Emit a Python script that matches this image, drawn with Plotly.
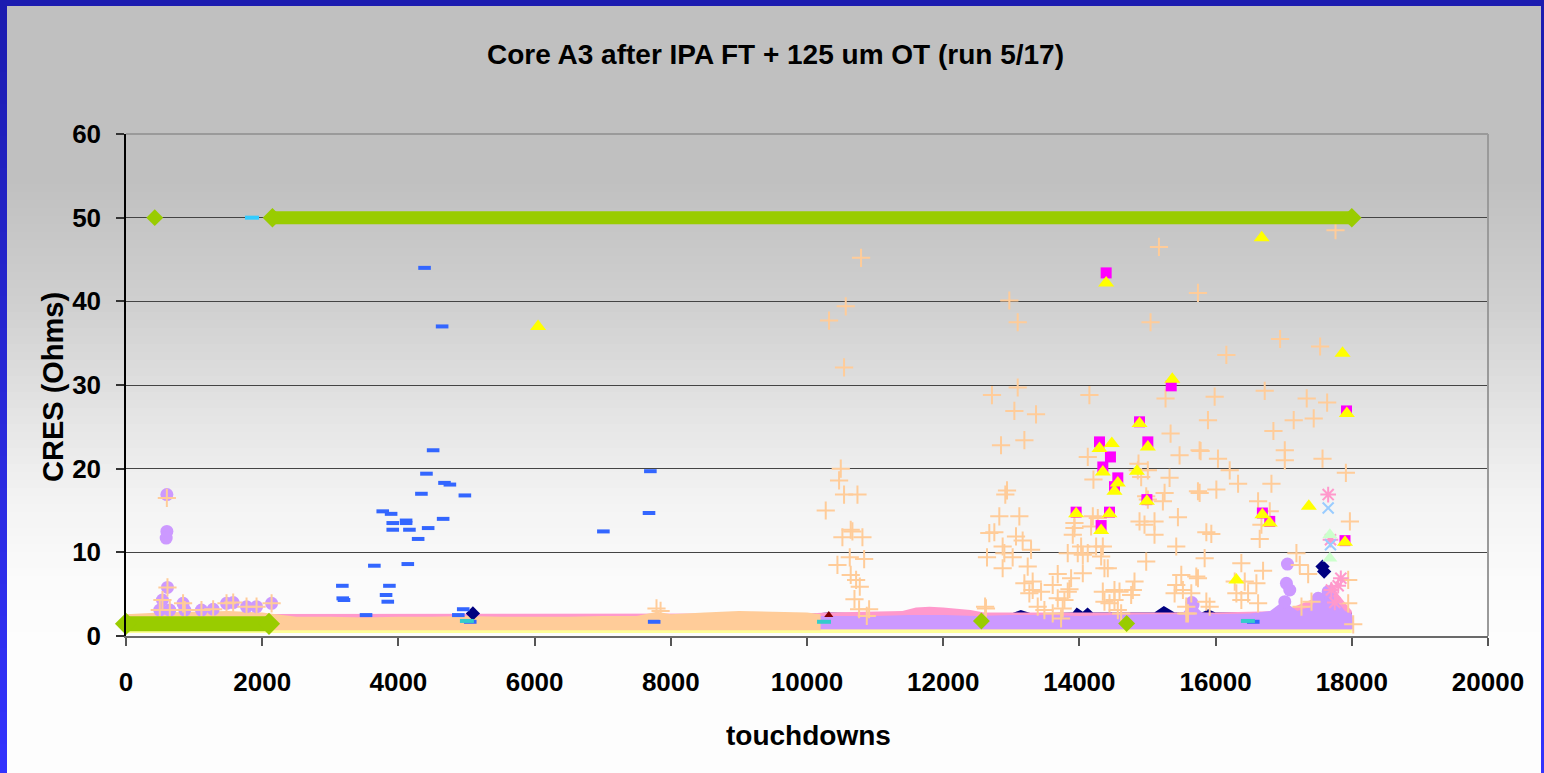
import plotly.graph_objects as go

# ---------------- data ----------------
TITLE = "Core A3 after IPA FT + 125 um OT (run 5/17)"
X_TITLE = "touchdowns"
Y_TITLE = "CRES (Ohms)"
x_ticks = [0, 2000, 4000, 6000, 8000, 10000, 12000, 14000, 16000, 18000, 20000]
y_ticks = [0, 10, 20, 30, 40, 50, 60]

# dense bands
green_top_x = [2150, 18000]
green_top_y = [50, 50]
green_low_x = [0, 2100]
green_low_y = [1.45, 1.45]

yellow_band_x = [0, 18000]
yellow_band_top = [0.9, 0.9]
yellow_band_floor = 0.35

navy_x = [2000, 10000, 10300, 11000, 12500, 13000, 13140, 13300, 13900, 13960, 14050, 14120,
          14200, 15100, 15240, 15400, 15800, 15890, 16000, 17000, 17500, 17600, 18000]
navy_top = [2.5, 2.6, 2.8, 2.7, 2.7, 2.7, 3.1, 2.7, 2.8, 3.4, 2.9, 3.4,
            2.8, 2.8, 3.6, 2.8, 2.8, 3.2, 2.8, 2.8, 2.9, 3.6, 2.8]
navy_floor = 1.0

pink_x = [0, 10000, 10300, 11400, 11600, 11800, 12000, 12400, 12600, 16000, 17000, 17600, 17700, 17800, 18000]
pink_top = [2.6, 2.7, 2.8, 3.0, 3.4, 3.5, 3.4, 3.1, 2.8, 2.8, 3.0, 5.0, 6.5, 5.0, 3.0]
pink_floor = 0.8

lav_x = [0, 2000, 2200, 4000, 6000, 8000, 10000, 10200, 10500, 11000, 11500, 12000, 12500, 13000,
         13500, 14000, 14500, 15000, 15500, 15650, 15800, 16000, 16500, 16800, 17000, 17200, 17400,
         17600, 17700, 17800, 17900, 18000, 18030]
lav_top = [2.2, 2.2, 2.0, 2.0, 2.0, 2.1, 2.2, 2.4, 2.4, 2.4, 2.5, 2.5, 2.4, 2.5,
           2.5, 2.4, 2.5, 2.6, 2.6, 4.0, 2.8, 2.6, 2.7, 3.0, 4.2, 3.0, 3.5,
           5.5, 5.0, 4.0, 3.0, 2.6, 2.0]
lav_floor = 0.8

peach_x = [0, 500, 1000, 1500, 2000, 2500, 3000, 3500, 4000, 4500, 5000, 5500, 6000, 6500,
           7000, 7500, 7800, 8000, 8500, 9000, 9500, 10000, 10200]
peach_top = [2.6, 2.8, 2.9, 3.0, 2.8, 2.3, 2.3, 2.2, 2.3, 2.3, 2.4, 2.3, 2.3, 2.3,
             2.4, 2.4, 2.9, 2.6, 2.8, 3.0, 2.9, 2.8, 2.6]
peach_floor = 0.7

# scattered points
blue_x = [3177, 3201, 3183, 3525, 3647, 3770, 3819, 3844, 3868, 3893, 3917, 3917, 4113, 4113, 4138,
          4162, 4290, 4338, 4384, 4412, 4437, 4510, 4642, 4657, 4677, 4756, 4880, 4952, 4976, 5055,
          7010, 7680, 7700, 7756, 16553]
blue_y = [6.0, 4.3, 4.5, 2.5, 8.4, 14.9, 4.9, 4.1, 6.0, 14.6, 13.5, 12.7, 13.8, 13.5, 8.6,
          12.7, 11.6, 17.0, 44.0, 19.4, 12.9, 22.2, 37.0, 14.0, 18.3, 18.1, 2.5, 3.2, 16.8, 1.7,
          12.5, 14.7, 19.7, 1.7, 1.7]

sky_x = [1850]
sky_y = [50]

teal_x = [5006, 10250, 16474]
teal_y = [1.8, 1.7, 1.8]

peach_pts_x = [600, 535, 609, 496, 643, 838, 863, 1108, 1280, 1476, 1574, 1770, 1917, 2138, 7790, 7850,
               10794, 10569, 10324, 10544, 10496, 10471, 10544, 10741, 10275, 10642, 10667, 10520, 10814,
               10628, 10839, 10447, 10642, 10721, 10775, 10697, 10765, 10912, 10878, 12615,
               13045, 13363, 12849, 13192, 12937, 12912, 12824, 13118, 12677, 12751, 13069, 13167, 13290,
               12873, 12898, 12643, 13020, 13241, 12873, 13682, 14050, 13878, 13192, 13314, 13608, 13314,
               13437, 13265, 13829, 13854, 13682, 13780, 13388, 13486, 13608, 13755, 13731, 12628, 14123,
               14206, 14197, 14270, 14172, 13927, 13903, 13927, 14025, 14246, 14344, 13829, 13976, 14050,
               14123, 14319, 14368, 14417, 14344, 14515, 14589, 14368, 14442, 14515, 14564, 14613, 14809,
               14785, 14760, 14858, 15005, 14907, 14868, 15339, 15471, 15324, 15251, 15226, 15005, 14981,
               14883, 14956, 15103, 15103, 15447, 15422, 14981, 15496, 15422, 15716, 15398, 15520, 15643,
               15569, 15594, 15765, 15741,
               15168, 15741, 12971, 13094, 15045, 13094, 12716, 14147, 15265,
               17761, 16947, 16158, 17535, 15986, 16721, 17338, 17638, 15888, 17147, 17441, 16849,
               15780, 16035, 17016, 17016, 17570, 17913, 16207, 15766, 16011, 16330, 16820, 16624, 16795,
               16673, 16648, 15864, 15937, 15839, 16378, 16697, 17972, 17947, 17187, 17359, 17236, 15741,
               16428, 16599, 16281, 16305, 16378, 16477, 16624, 15864, 15570, 15913, 17261, 17408, 17947,
               18021]
peach_pts_y = [16.5, 4.3, 5.8, 3.1, 3.1, 3.9, 3.1, 3.1, 3.2, 3.9, 4.0, 3.5, 3.5, 3.9, 3.3, 3.0,
               45.2, 39.4, 37.7, 32.1, 20.0, 18.6, 16.9, 16.9, 15.0, 12.7, 12.5, 11.8, 11.8,
               9.4, 9.2, 8.5, 7.3, 6.7, 5.9, 4.4, 3.2, 3.2, 2.4, 3.5,
               26.9, 26.5, 22.8, 23.4, 17.4, 16.9, 14.3, 14.3, 12.3, 12.4, 11.9, 11.4, 10.3,
               10.7, 9.9, 9.4, 9.4, 8.3, 8.1, 7.4, 7.5, 6.9, 6.3, 6.5, 6.1, 5.5,
               5.3, 5.1, 5.3, 5.6, 4.5, 4.3, 3.5, 3.1, 2.7, 3.3, 2.1, 3.3, 21.4,
               18.7, 14.3, 14.1, 13.1, 13.5, 12.1, 12.9, 10.7, 10.7, 10.7, 9.9, 9.9, 9.7,
               9.9, 9.5, 8.1, 8.1, 5.3, 5.5, 5.3, 4.1, 3.9, 4.3, 3.1, 2.7, 6.5,
               5.5, 4.9, 19.8, 19.8, 19.0, 20.6, 24.2, 21.6, 18.9, 17.1, 16.1, 16.3, 16.7,
               13.7, 13.3, 13.7, 12.1, 14.2, 10.7, 8.9, 7.3, 6.1, 7.1, 5.1, 5.5, 5.1,
               3.5, 2.7, 22.2, 17.3,
               46.5, 41.0, 40.1, 37.5, 37.5, 29.7, 28.8, 28.8, 28.4,
               48.5, 35.5, 33.6, 34.6, 28.6, 29.3, 28.4, 27.9, 25.8, 25.8, 26.0, 24.5,
               22.1, 21.2, 22.2, 21.0, 21.2, 19.5, 19.8, 17.1, 17.5, 18.2, 18.2, 16.1, 14.9,
               13.3, 11.6, 12.4, 12.2, 9.3, 8.7, 7.8, 13.7, 6.7, 9.9, 7.4, 8.5, 6.9,
               6.5, 6.3, 6.5, 5.1, 4.3, 5.1, 3.9, 4.1, 2.7, 3.5, 3.5, 4.1, 3.9,
               1.4]

lav_pts_x = [600, 600, 590, 609, 535, 496, 643, 838, 863, 1108, 1280, 1476, 1574, 1770, 1917, 2138,
             17055, 17040, 17089, 17016, 17506, 17653, 15668, 15650]
lav_pts_y = [16.9, 12.5, 11.7, 5.8, 4.3, 3.1, 3.1, 3.9, 3.1, 3.1, 3.2, 3.9, 4.0, 3.5, 3.5, 3.9,
             8.6, 6.3, 5.5, 4.1, 4.5, 5.3, 3.7, 4.0]

mag_x = [14393, 14295, 14456, 14344, 14564, 14515, 13952, 14442, 14319, 14883, 15005, 14991, 15348,
         16687, 16795, 17922, 17900]
mag_y = [43.4, 23.2, 21.4, 20.2, 18.9, 17.85, 14.8, 14.8, 13.2, 25.6, 23.2, 16.3, 29.9,
         14.7, 13.7, 26.9, 11.4]

yel_x = [6051, 14393, 14295, 14476, 14344, 14564, 14515, 13952, 14442, 14319, 14883, 15005, 14991,
         14844, 15364, 16677, 17864, 17369, 16305, 16687, 16795, 17927, 17900]
yel_y = [37.0, 42.2, 22.4, 23.0, 19.6, 18.3, 17.3, 14.6, 14.6, 12.6, 25.4, 22.6, 16.1,
         19.7, 30.7, 47.6, 33.8, 15.5, 6.7, 14.5, 13.5, 26.6, 11.2]

green_pts_x = [422, 12561, 14694]
green_pts_y = [50, 1.8, 1.5]

pinkx_x = [17653, 17687, 17839, 17700, 17750, 17800]
pinkx_y = [16.9, 11.5, 6.9, 5.5, 4.0, 6.0]
ltblue_x = [17653, 17687]
ltblue_y = [15.3, 10.9]
ltgreen_x = [17678, 17678]
ltgreen_y = [12.1, 9.3]
navy_pts_x = [17570, 17594, 5094]
navy_pts_y = [8.3, 7.7, 2.7]
maroon_x = [10320]
maroon_y = [2.5]

# ---------------- figure ----------------
W, H = 1544, 773
ML, MR, MT, MB = 126, 56, 134, 137
PW, PH = W - ML - MR, H - MT - MB

def px2fx(px):
    return (px - ML) / PW

def py2fy(py):
    return 1 - (py - MT) / PH

FONT = "Liberation Sans, Arial, sans-serif"

fig = go.Figure()

def band(xs, tops, floor, color, name):
    fig.add_trace(go.Scatter(
        x=list(xs) + list(xs)[::-1],
        y=list(tops) + [floor] * len(xs),
        fill="toself", fillcolor=color, mode="lines",
        line=dict(width=0, color=color), hoverinfo="skip", name=name, showlegend=False))

band(yellow_band_x, yellow_band_top, yellow_band_floor, "#ffff99", "yellow")
band(navy_x, navy_top, navy_floor, "#000080", "navy")
band(pink_x, pink_top, pink_floor, "#ff99cc", "pink")
band(lav_x, lav_top, lav_floor, "#cc99ff", "lavender")
band(peach_x, peach_top, peach_floor, "#ffcc99", "peach")

def pts(x, y, symbol, size, color, lw=0, lc=None):
    fig.add_trace(go.Scatter(
        x=x, y=y, mode="markers", cliponaxis=False, showlegend=False,
        marker=dict(symbol=symbol, size=size, color=color,
                    line=dict(width=lw, color=lc if lc else color))))

pts(navy_pts_x, navy_pts_y, "diamond", 11, "#000080")
pts(maroon_x, maroon_y, "triangle-up", 8, "#800000")
pts(lav_pts_x, lav_pts_y, "circle", 13, "#cc99ff")
pts(blue_x, blue_y, "line-ew", 9, "#3366ff", 4, "#3366ff")
pts(teal_x, teal_y, "line-ew", 10, "#33cccc", 4, "#33cccc")
pts(sky_x, sky_y, "line-ew", 10, "#33ccff", 4, "#33ccff")
pts(peach_pts_x, peach_pts_y, "cross-thin", 13, "#ffcc99", 2, "#ffcc99")
pts(pinkx_x, pinkx_y, "asterisk", 13, "#ff99cc", 2, "#ff99cc")
pts(ltblue_x, ltblue_y, "x-thin", 11, "#99ccff", 2, "#99ccff")
pts(ltgreen_x, ltgreen_y, "triangle-up", 13, "#ccffcc")
pts(mag_x, mag_y, "square", 11, "#ff00ff")
pts(yel_x, yel_y, "triangle-up", 14, "#ffff00")

# green series (dense band at the bottom, then saturated at 50)
fig.add_trace(go.Scatter(x=green_low_x, y=green_low_y, mode="lines+markers", cliponaxis=False,
                         showlegend=False, line=dict(color="#99cc00", width=15),
                         marker=dict(symbol="diamond", size=17, color="#99cc00")))
fig.add_trace(go.Scatter(x=green_top_x, y=green_top_y, mode="lines+markers", cliponaxis=False,
                         showlegend=False, line=dict(color="#99cc00", width=13),
                         marker=dict(symbol="diamond", size=15, color="#99cc00")))
pts(green_pts_x, green_pts_y, "diamond", 13, "#99cc00")

# ---- background: blue frame + grey-to-white gradient ----
shapes = []
stops = [(0, 192), (180, 192), (300, 207), (430, 231), (500, 243), (580, 251), (650, 253), (773, 253)]

def grey_at(py):
    for (a, va), (b, vb) in zip(stops[:-1], stops[1:]):
        if a <= py <= b:
            t = (py - a) / (b - a) if b > a else 0
            return va + (vb - va) * t
    return stops[-1][1]

step = 8
py = 0
while py < H:
    py2 = min(H, py + step)
    t = py / H
    br = int(28 + (52 - 28) * t)
    bb = int(176 + (255 - 176) * t)
    shapes.append(dict(type="rect", xref="paper", yref="paper", layer="below",
                       x0=px2fx(0), x1=px2fx(W), y0=py2fy(py2 + 0.5), y1=py2fy(py),
                       fillcolor=f"rgb({br},{br},{bb})", line=dict(width=0)))
    g = int(round(grey_at((py + py2) / 2)))
    top = max(py, 6)
    if top < py2:
        shapes.append(dict(type="rect", xref="paper", yref="paper", layer="below",
                           x0=px2fx(7), x1=px2fx(1541), y0=py2fy(py2 + 0.5), y1=py2fy(top),
                           fillcolor=f"rgb({g},{g},{g})", line=dict(width=0)))
    py = py2

# plot-area frame: grey top and right
shapes.append(dict(type="line", xref="paper", yref="paper", x0=0, x1=1, y0=1, y1=1,
                   line=dict(color="#9a9a9a", width=2), layer="above"))
shapes.append(dict(type="line", xref="paper", yref="paper", x0=1, x1=1, y0=0, y1=1,
                   line=dict(color="#9a9a9a", width=2), layer="above"))

fig.update_layout(
    width=W, height=H,
    margin=dict(l=ML, r=MR, t=MT, b=MB, pad=0),
    paper_bgcolor="white", plot_bgcolor="rgba(0,0,0,0)",
    shapes=shapes,
    font=dict(family=FONT, color="black", weight="bold"),
    xaxis=dict(range=[0, 20000], tickvals=x_ticks, ticktext=[str(v) for v in x_ticks],
               showgrid=False, zeroline=False, showline=True, linecolor="#6a6a6a", linewidth=2,
               ticks="outside", ticklen=8, tickwidth=1.5, tickcolor="#555555",
               tickfont=dict(size=26, family=FONT, weight="bold"), ticklabelstandoff=14),
    yaxis=dict(range=[0, 60], tickvals=y_ticks, ticktext=[str(v) for v in y_ticks],
               showgrid=True, gridcolor="#444444", gridwidth=1, zeroline=False,
               showline=True, linecolor="#000000", linewidth=1.5,
               ticks="outside", ticklen=8, tickwidth=1.5, tickcolor="#333333",
               tickfont=dict(size=26, family=FONT, weight="bold"), ticklabelstandoff=10),
    annotations=[
        dict(text=TITLE, xref="paper", yref="paper", x=px2fx(775), y=py2fy(55),
             xanchor="center", yanchor="middle", showarrow=False,
             font=dict(size=28, family=FONT, weight="bold")),
        dict(text=X_TITLE, xref="paper", yref="paper", x=px2fx(808), y=py2fy(735),
             xanchor="center", yanchor="middle", showarrow=False,
             font=dict(size=28, family=FONT, weight="bold")),
        dict(text=Y_TITLE, xref="paper", yref="paper", x=px2fx(53), y=py2fy(387),
             xanchor="center", yanchor="middle", showarrow=False, textangle=-90,
             font=dict(size=29, family=FONT, weight="bold")),
    ],
)

fig.write_html("out.html", config={"displayModeBar": False},
               post_script="document.body.style.margin='0px';document.body.style.overflow='hidden';")
